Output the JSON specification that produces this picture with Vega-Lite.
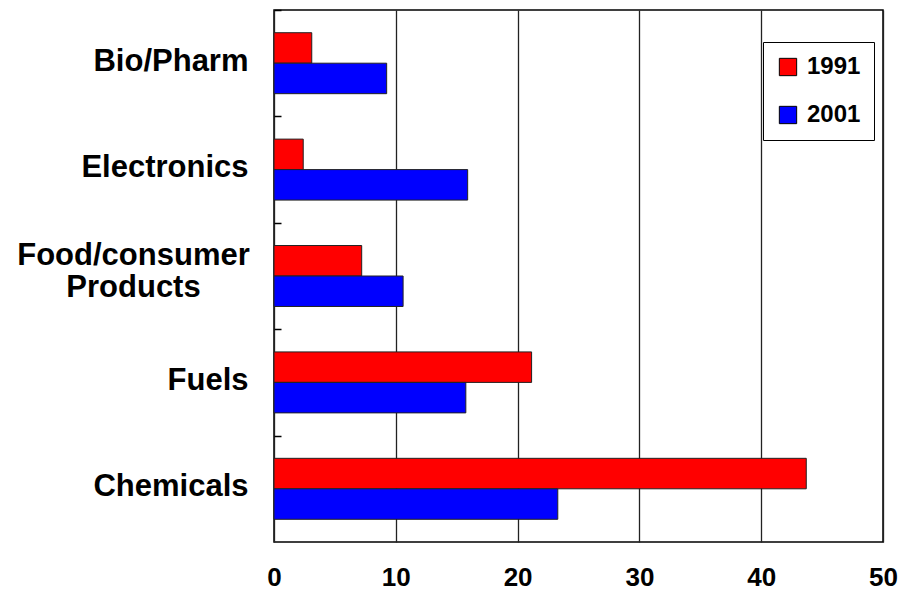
{
  "$schema": "https://vega.github.io/schema/vega-lite/v6.json",
  "width": 609,
  "height": 532,
  "autosize": {"type": "none"},
  "padding": {"left": 274, "top": 10, "right": 16, "bottom": 52},
  "background": "#ffffff",
  "config": {
    "view": {"stroke": "#000000", "strokeWidth": 1.5, "fill": "#ffffff"},
    "font": "Liberation Sans"
  },
  "data": {
    "values": [
      {"category": "Bio/Pharm", "year": "1991", "value": 3.1},
      {"category": "Bio/Pharm", "year": "2001", "value": 9.25},
      {"category": "Electronics", "year": "1991", "value": 2.4},
      {"category": "Electronics", "year": "2001", "value": 15.9},
      {"category": "Food/consumer Products", "year": "1991", "value": 7.2},
      {"category": "Food/consumer Products", "year": "2001", "value": 10.6},
      {"category": "Fuels", "year": "1991", "value": 21.15},
      {"category": "Fuels", "year": "2001", "value": 15.75},
      {"category": "Chemicals", "year": "1991", "value": 43.7},
      {"category": "Chemicals", "year": "2001", "value": 23.3}
    ]
  },
  "mark": {"type": "bar", "stroke": "#222222", "strokeWidth": 1},
  "encoding": {
    "y": {
      "field": "category",
      "type": "nominal",
      "sort": ["Bio/Pharm", "Electronics", "Food/consumer Products", "Fuels", "Chemicals"],
      "scale": {"paddingInner": 0.427, "paddingOuter": 0.2135},
      "axis": {
        "title": null,
        "domain": false,
        "tickSize": -7,
        "tickWidth": 1.5,
        "tickColor": "#000000",
        "tickOffset": -53.2,
        "labelOffset": {"condition": {"test": "datum.value == 'Food/consumer Products'", "value": 33}, "value": 51},
        "labelAlign": {"condition": {"test": "datum.value == 'Food/consumer Products'", "value": "center"}, "value": "right"},
        "labelPadding": {"condition": {"test": "datum.value == 'Food/consumer Products'", "value": 148}, "value": 33},
        "labelFontSize": 31,
        "labelFontWeight": "bold",
        "labelColor": "#000000",
        "labelLimit": 400,
        "labelLineHeight": 32,
        "labelExpr": "datum.label == 'Food/consumer Products' ? ['Food/consumer', 'Products'] : datum.label"
      }
    },
    "yOffset": {"field": "year", "type": "nominal", "sort": ["1991", "2001"]},
    "x": {
      "field": "value",
      "type": "quantitative",
      "scale": {"domain": [0, 50], "nice": false},
      "axis": {
        "title": null,
        "values": [0, 10, 20, 30, 40, 50],
        "domain": false,
        "ticks": false,
        "grid": true,
        "gridColor": "#222222",
        "gridWidth": 1.3,
        "gridOpacity": 1,
        "labelFontSize": 26,
        "labelFontWeight": "bold",
        "labelColor": "#000000",
        "labelPadding": 22,
        "labelFlush": false
      }
    },
    "color": {
      "field": "year",
      "type": "nominal",
      "scale": {"domain": ["1991", "2001"], "range": ["#ff0000", "#0000ff"]},
      "legend": {
        "title": null,
        "orient": "none",
        "legendX": 489,
        "legendY": 32,
        "direction": "vertical",
        "fillColor": "#ffffff",
        "strokeColor": "#000000",
        "padding": 13,
        "symbolType": "square",
        "symbolSize": 300,
        "symbolStrokeColor": "#000000",
        "symbolStrokeWidth": 1,
        "symbolOpacity": 1,
        "labelFontSize": 24,
        "labelFontWeight": "bold",
        "labelColor": "#000000",
        "labelOffset": 7,
        "rowPadding": 24
      }
    }
  }
}
